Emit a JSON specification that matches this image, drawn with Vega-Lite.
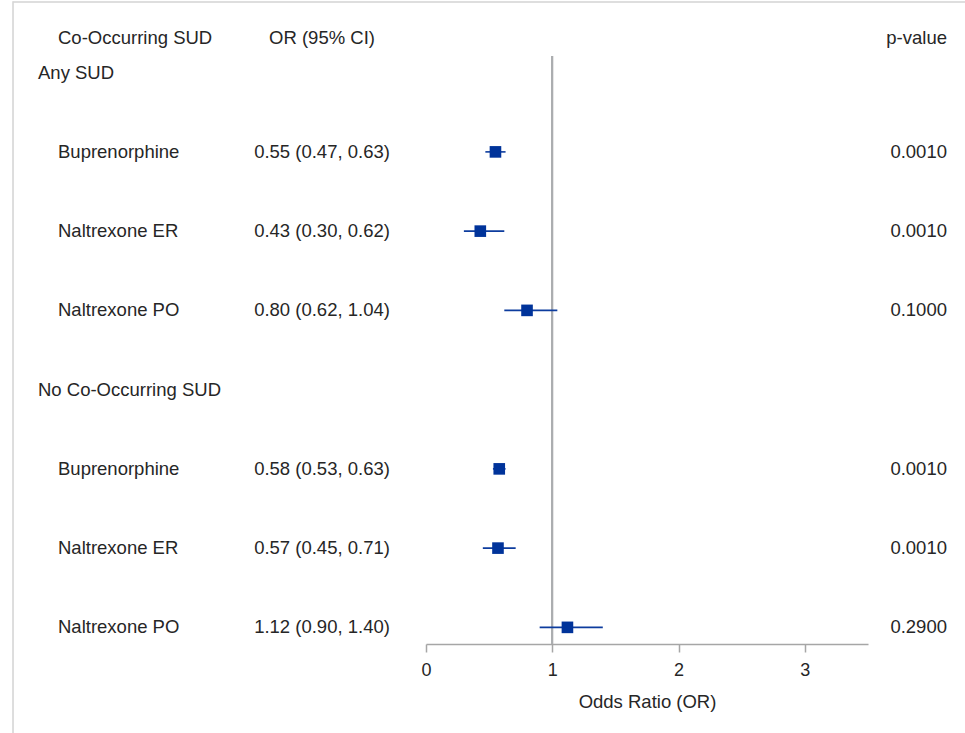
{
  "$schema": "https://vega.github.io/schema/vega-lite/v6.json",
  "padding": {"left": 12, "top": 1, "right": 0, "bottom": 0},
  "bounds": "flush",
  "spacing": 0,
  "config": {
    "view": {"stroke": null},
    "font": "Liberation Sans",
    "text": {"font": "Liberation Sans", "fontSize": 18.5, "color": "#262626"},
    "title": {"font": "Liberation Sans", "fontSize": 18.5, "fontWeight": "normal", "color": "#262626"},
    "axis": {
      "grid": false,
      "domainColor": "#a6a6a6",
      "domainWidth": 1.5,
      "tickColor": "#a6a6a6",
      "tickWidth": 1.5,
      "tickSize": 8,
      "labelFont": "Liberation Sans",
      "labelFontSize": 18,
      "labelColor": "#262626",
      "labelPadding": 9,
      "labelFlush": false,
      "titleFont": "Liberation Sans",
      "titleFontSize": 18.5,
      "titleFontWeight": "normal",
      "titleColor": "#262626",
      "titlePadding": 13
    }
  },
  "datasets": {
    "rows": [
      {"row": 0, "level": 0, "label": "Any SUD"},
      {"row": 1, "level": 1, "label": "Buprenorphine", "or": 0.55, "lo": 0.47, "hi": 0.63, "ci": "0.55 (0.47, 0.63)", "p": 0.001},
      {"row": 2, "level": 1, "label": "Naltrexone ER", "or": 0.43, "lo": 0.30, "hi": 0.62, "ci": "0.43 (0.30, 0.62)", "p": 0.001},
      {"row": 3, "level": 1, "label": "Naltrexone PO", "or": 0.80, "lo": 0.62, "hi": 1.04, "ci": "0.80 (0.62, 1.04)", "p": 0.1},
      {"row": 4, "level": 0, "label": "No Co-Occurring SUD"},
      {"row": 5, "level": 1, "label": "Buprenorphine", "or": 0.58, "lo": 0.53, "hi": 0.63, "ci": "0.58 (0.53, 0.63)", "p": 0.001},
      {"row": 6, "level": 1, "label": "Naltrexone ER", "or": 0.57, "lo": 0.45, "hi": 0.71, "ci": "0.57 (0.45, 0.71)", "p": 0.001},
      {"row": 7, "level": 1, "label": "Naltrexone PO", "or": 1.12, "lo": 0.90, "hi": 1.40, "ci": "1.12 (0.90, 1.40)", "p": 0.29}
    ]
  },
  "hconcat": [
    {
      "width": 0.01,
      "height": 740,
      "view": {"stroke": "#d3d3d3", "strokeWidth": 1.5},
      "data": {"values": []},
      "mark": "text"
    },
    {
      "spacing": 53,
      "bounds": "flush",
      "vconcat": [
        {
          "width": 960,
          "height": 0.01,
          "view": {"stroke": "#d3d3d3", "strokeWidth": 1.5},
          "data": {"values": []},
          "mark": "text"
        },
        {
          "spacing": 0,
          "bounds": "flush",
          "hconcat": [
            {
              "width": 204,
              "height": 588,
              "title": {"text": "Co-Occurring SUD", "anchor": "start", "dx": 44, "dy": 21, "offset": 15, "baseline": "alphabetic"},
              "data": {"name": "rows"},
              "mark": {"type": "text", "align": "left", "baseline": "middle"},
              "encoding": {
                "x": {"field": "level", "type": "quantitative", "scale": {"domain": [-1.2, 9], "nice": false, "zero": false}, "axis": null},
                "y": {"field": "row", "type": "ordinal", "scale": {"type": "point", "padding": 0.21, "domain": [0, 1, 2, 3, 4, 5, 6, 7]}, "axis": null},
                "text": {"field": "label", "type": "nominal"}
              }
            },
            {
              "width": 208,
              "height": 588,
              "title": {"text": "OR (95% CI)", "anchor": "middle", "dy": 21, "offset": 15, "baseline": "alphabetic"},
              "data": {"name": "rows"},
              "transform": [{"filter": "isValid(datum.ci)"}],
              "mark": {"type": "text", "align": "center", "baseline": "middle"},
              "encoding": {
                "y": {"field": "row", "type": "ordinal", "scale": {"type": "point", "padding": 0.21, "domain": [0, 1, 2, 3, 4, 5, 6, 7]}, "axis": null},
                "text": {"field": "ci", "type": "nominal"}
              }
            },
            {
              "width": 442,
              "height": 588,
              "data": {"name": "rows"},
              "layer": [
                {
                  "mark": {"type": "rule", "color": "#abadb0", "strokeWidth": 1.5},
                  "encoding": {
                    "x": {"datum": 1, "type": "quantitative", "scale": {"domain": [0, 3.5], "nice": false}, "axis": {"values": [0, 1, 2, 3], "title": "Odds Ratio (OR)"}}
                  }
                },
                {
                  "transform": [{"filter": "isValid(datum.or)"}],
                  "mark": {"type": "rule", "color": "#0d3c9e", "strokeWidth": 1.6},
                  "encoding": {
                    "x": {"field": "lo", "type": "quantitative", "scale": {"domain": [0, 3.5], "nice": false}, "axis": {"values": [0, 1, 2, 3], "title": "Odds Ratio (OR)"}},
                    "x2": {"field": "hi"},
                    "y": {"field": "row", "type": "ordinal", "scale": {"type": "point", "padding": 0.21, "domain": [0, 1, 2, 3, 4, 5, 6, 7]}, "axis": null}
                  }
                },
                {
                  "transform": [{"filter": "isValid(datum.or)"}],
                  "mark": {"type": "square", "color": "#00339a", "opacity": 1, "size": 135},
                  "encoding": {
                    "x": {"field": "or", "type": "quantitative", "scale": {"domain": [0, 3.5], "nice": false}, "axis": {"values": [0, 1, 2, 3], "title": "Odds Ratio (OR)"}},
                    "y": {"field": "row", "type": "ordinal", "scale": {"type": "point", "padding": 0.21, "domain": [0, 1, 2, 3, 4, 5, 6, 7]}, "axis": null}
                  }
                }
              ]
            },
            {
              "width": 158,
              "height": 588,
              "title": {"text": "p-value", "anchor": "middle", "align": "right", "dy": 21, "offset": 15, "baseline": "alphabetic"},
              "data": {"name": "rows"},
              "transform": [{"filter": "isValid(datum.p)"}],
              "mark": {"type": "text", "align": "right", "baseline": "middle"},
              "encoding": {
                "y": {"field": "row", "type": "ordinal", "scale": {"type": "point", "padding": 0.21, "domain": [0, 1, 2, 3, 4, 5, 6, 7]}, "axis": null},
                "text": {"field": "p", "type": "quantitative", "format": ".4f"}
              }
            }
          ]
        }
      ]
    }
  ]
}
